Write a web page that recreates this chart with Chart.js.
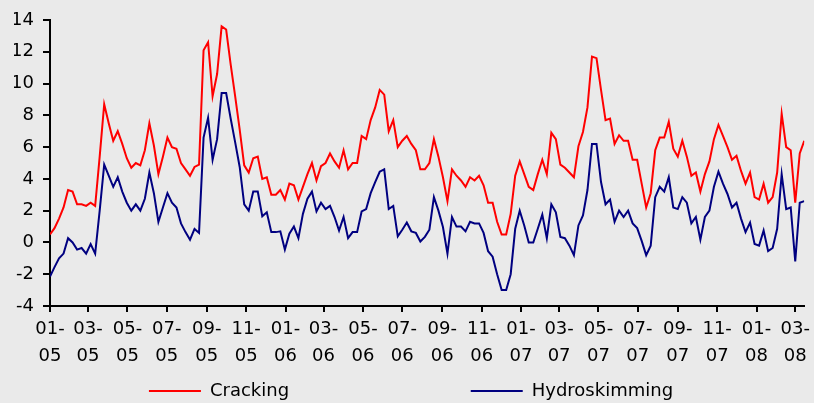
<!DOCTYPE html>
<html>
<head>
<meta charset="utf-8">
<script src="https://cdn.jsdelivr.net/npm/chart.js@4.4.1/dist/chart.umd.min.js"></script>
<style>
  html, body { margin: 0; padding: 0; background: #eaeaea; }
  canvas { display: block; }
</style>
</head>
<body>
<canvas id="c" width="814" height="403"></canvas>
<script>
// ---- data (weekly margins) ----
const seriesNames = ['Cracking', 'Hydroskimming'];

const cracking = [
  0.5, 0.9, 1.5, 2.2, 3.3, 3.2, 2.4, 2.4, 2.3, 2.5,
  2.3, 5.4, 8.7, 7.5, 6.4, 7.0, 6.2, 5.3, 4.7, 5.0,
  4.85, 5.8, 7.5, 6.1, 4.3, 5.4, 6.6, 6.0, 5.9, 5.0,
  4.6, 4.2, 4.75, 4.9, 12.1, 12.6, 9.2, 10.6, 13.6, 13.4,
  11.2, 9.2, 7.1, 4.85, 4.4, 5.3, 5.4, 4.0, 4.1, 3.0,
  3.0, 3.3, 2.7, 3.7, 3.6, 2.7, 3.5, 4.3, 5.0, 3.9,
  4.8, 5.0, 5.6, 5.1, 4.7, 5.8, 4.6, 5.0, 5.0, 6.7,
  6.5, 7.7, 8.5, 9.6, 9.3, 7.0, 7.7, 6.0, 6.4, 6.7,
  6.2, 5.8, 4.6, 4.6, 5.0, 6.5, 5.4, 4.1, 2.6, 4.6,
  4.2, 3.9, 3.5, 4.1, 3.9, 4.2, 3.6, 2.5, 2.5, 1.3,
  0.5, 0.5, 1.8, 4.2, 5.1, 4.3, 3.5, 3.3, 4.3, 5.2,
  4.3, 6.9, 6.5, 4.9, 4.7, 4.4, 4.1, 6.05, 6.95, 8.5,
  11.7, 11.6, 9.6, 7.7, 7.8, 6.2, 6.75, 6.4, 6.4, 5.2,
  5.2, 3.7, 2.2, 3.1, 5.8, 6.6, 6.6, 7.6, 5.9, 5.4,
  6.4, 5.4, 4.2, 4.4, 3.2, 4.3, 5.1, 6.5, 7.4, 6.7,
  6.0, 5.2, 5.45, 4.5, 3.7, 4.4, 2.85, 2.7, 3.7, 2.5,
  2.85, 4.4, 8.1, 6.0, 5.8, 2.5, 5.6, 6.4
];

const hydroskimming = [
  -2.15, -1.55, -1.0, -0.7, 0.27, 0.0, -0.45, -0.35, -0.7, -0.1,
  -0.7, 2.0, 4.9, 4.2, 3.5, 4.1, 3.2, 2.5, 2.0, 2.4,
  2.0, 2.75, 4.4, 3.1, 1.3, 2.2, 3.1, 2.5, 2.2, 1.2,
  0.65, 0.17, 0.85, 0.6, 6.6, 7.85, 5.2, 6.5, 9.4, 9.4,
  7.8, 6.3, 4.75, 2.4, 2.0, 3.2, 3.2, 1.65, 1.9, 0.65,
  0.65, 0.7, -0.45, 0.55, 1.0, 0.27, 1.8, 2.75, 3.2, 1.95,
  2.5, 2.1, 2.3, 1.6, 0.75, 1.6, 0.27, 0.65, 0.65, 1.95,
  2.1, 3.1, 3.8, 4.45, 4.6, 2.1, 2.3, 0.38, 0.8, 1.25,
  0.7, 0.6, 0.06, 0.35, 0.8, 2.85, 2.0, 0.97, -0.7, 1.6,
  1.0, 1.0, 0.7, 1.3, 1.2, 1.2, 0.6, -0.55, -0.9, -2.0,
  -3.0, -3.0, -2.0, 0.86, 2.0, 1.07, 0.0, 0.0, 0.86, 1.75,
  0.27, 2.4, 1.9, 0.34, 0.27, -0.2, -0.8, 1.07, 1.7, 3.3,
  6.2, 6.2, 3.8, 2.4, 2.7, 1.3, 2.0, 1.6, 2.0, 1.2,
  0.9, 0.1, -0.8, -0.2, 2.85, 3.5, 3.2, 4.1, 2.2, 2.1,
  2.85, 2.5, 1.2, 1.6, 0.17, 1.6, 2.0, 3.5, 4.45, 3.7,
  3.05, 2.2, 2.5, 1.5, 0.65, 1.25, -0.1, -0.2, 0.75, -0.55,
  -0.35, 0.86, 4.3, 2.1, 2.2, -1.2, 2.5, 2.6
];

const tickLabels = [
  '01-05', '03-05', '05-05', '07-05', '09-05', '11-05',
  '01-06', '03-06', '05-06', '07-06', '09-06', '11-06',
  '01-07', '03-07', '05-07', '07-07', '09-07', '11-07',
  '01-08', '03-08'
];
const yTicks = [-4, -2, 0, 2, 4, 6, 8, 10, 12, 14];

// ---- categories: one observation per week starting 1 Jan 2005 ----
const DAY = 86400000;
const startDate = Date.UTC(2005, 0, 1);
const categories = cracking.map((_, i) => new Date(startDate + i * 7 * DAY).toISOString().slice(0, 10));
const dayOf = (iso) => (Date.parse(iso) - startDate) / DAY;
const tickDays = tickLabels.map(t => {
  const [m, y] = t.split('-').map(Number);
  return (Date.UTC(2000 + y, m - 1, 1) - startDate) / DAY;
});
const toPoints = (vals) => vals.map((v, i) => ({ x: dayOf(categories[i]), y: v }));

Chart.defaults.font.family = 'DejaVu Sans';
Chart.defaults.font.size = 18;
Chart.defaults.color = '#000';

new Chart(document.getElementById('c'), {
  type: 'line',
  data: {
    datasets: [
      { label: seriesNames[0], data: toPoints(cracking), borderColor: '#ff0000', backgroundColor: '#ff0000',
        borderWidth: 2, pointRadius: 0, tension: 0, fill: false },
      { label: seriesNames[1], data: toPoints(hydroskimming), borderColor: '#000080', backgroundColor: '#000080',
        borderWidth: 2, pointRadius: 0, tension: 0, fill: false }
    ]
  },
  options: {
    responsive: false,
    animation: false,
    devicePixelRatio: 1,
    layout: { padding: { left: 14, right: 6, top: 20, bottom: -7 } },
    plugins: {
      tooltip: { enabled: false },
      legend: {
        position: 'bottom',
        labels: {
          boxWidth: 52,
          boxHeight: 0,
          padding: 10,
          color: '#000',
          font: { size: 18 },
          generateLabels(chart) {
            const items = Chart.defaults.plugins.legend.labels.generateLabels(chart);
            items[0].text = items[0].text + ' '.repeat(30);
            return items;
          }
        }
      }
    },
    scales: {
      x: {
        type: 'linear',
        min: 0,
        max: dayOf(categories[categories.length - 1]),
        afterBuildTicks(scale) { scale.ticks = tickDays.map(v => ({ value: v })); },
        afterFit(scale) { scale.height = 66; },
        ticks: {
          autoSkip: false, maxRotation: 0, minRotation: 0, padding: 4,
          color: '#000',
          font: { size: 18, lineHeight: 1.5 },
          callback: (v, i) => [tickLabels[i].slice(0, 3), tickLabels[i].slice(3)]
        },
        grid: { display: true, drawOnChartArea: false, drawTicks: true, tickLength: 6, color: '#000', lineWidth: 2 },
        border: { display: true, color: '#000', width: 2 }
      },
      y: {
        min: -4,
        max: 14,
        afterBuildTicks(scale) { scale.ticks = yTicks.map(v => ({ value: v })); },
        afterFit(scale) { scale.width = 36; },
        ticks: { padding: 9, color: '#000', font: { size: 18 } },
        grid: { display: true, drawOnChartArea: false, drawTicks: true, tickLength: 7, color: '#000', lineWidth: 2 },
        border: { display: true, color: '#000', width: 2 }
      }
    }
  }
});
</script>
</body>
</html>
